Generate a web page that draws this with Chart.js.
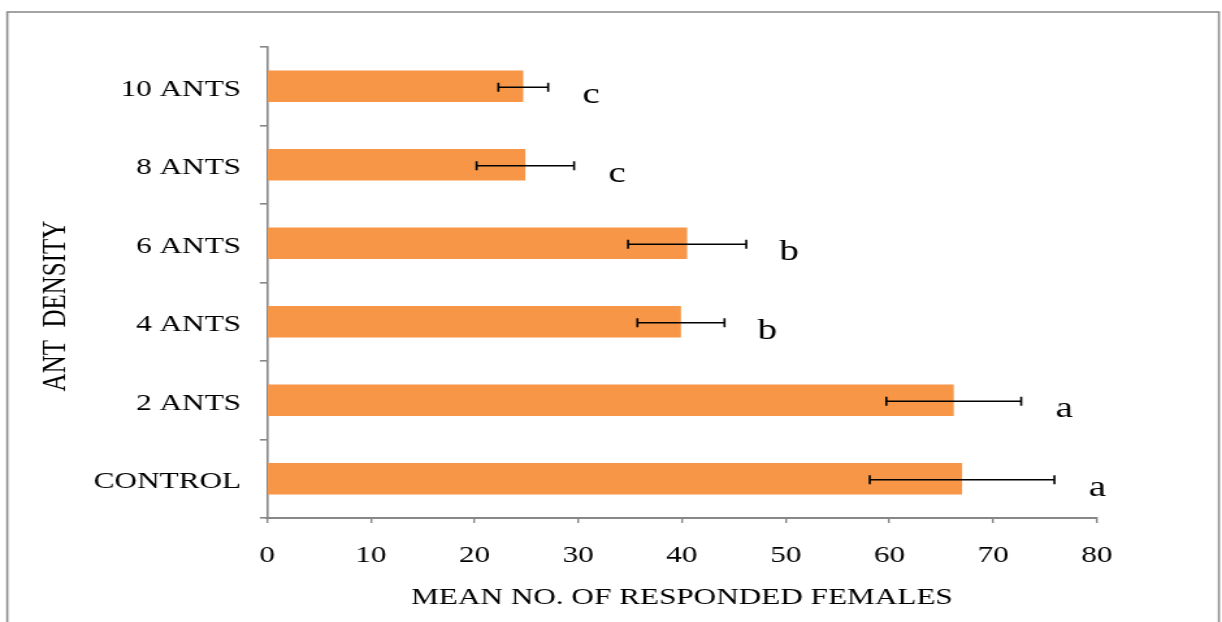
<!DOCTYPE html>
<html>
<head>
<meta charset="utf-8">
<script src="https://cdn.jsdelivr.net/npm/chart.js@4/dist/chart.umd.min.js"></script>
<style>
  html, body { margin: 0; padding: 0; background: #ffffff; overflow: hidden; }
  /* the figure is laid out on a narrower canvas and widened as a whole */
  #wrap { width: 940px; height: 622px; transform: scaleX(1.3); transform-origin: 0 0; }
  canvas { display: block; }
</style>
</head>
<body>
<div id="wrap"><canvas id="chart" width="940" height="622"></canvas></div>
<script>
const categories = ['CONTROL', '2 ANTS', '4 ANTS', '6 ANTS', '8 ANTS', '10 ANTS'];
const meanFemales = [67.0, 66.2, 39.9, 40.5, 24.9, 24.7];
const errorSE = [8.9, 6.5, 4.2, 5.7, 4.7, 2.4];
const groupLetters = ['a', 'a', 'b', 'b', 'c', 'c'];
const xTickValues = [0, 10, 20, 30, 40, 50, 60, 70, 80];

const xTitle = 'MEAN NO. OF RESPONDED FEMALES';
const yTitle = 'ANT  DENSITY';

const SERIF = '"Liberation Serif", "Times New Roman", serif';
const AXIS_GREY = '#878787';

const framePlugin = {
  id: 'frame',
  beforeDraw(chart) {
    const ctx = chart.ctx;
    ctx.save();
    ctx.fillStyle = '#ffffff';
    ctx.fillRect(0, 0, chart.width, chart.height);
    ctx.strokeStyle = '#8c8c8c';
    ctx.lineWidth = 1.6;
    ctx.strokeRect(5.6, 12, 932, chart.height + 20);
    ctx.restore();
  }
};

const errorBarPlugin = {
  id: 'errorBars',
  afterDatasetsDraw(chart) {
    const ctx = chart.ctx;
    const xs = chart.scales.x, ys = chart.scales.y;
    ctx.save();
    ctx.strokeStyle = '#000000';
    ctx.lineWidth = 1.6;
    meanFemales.forEach((m, i) => {
      const y = ys.getPixelForValue(i) + 1;
      const x0 = xs.getPixelForValue(m - errorSE[i]);
      const x1 = xs.getPixelForValue(m + errorSE[i]);
      ctx.beginPath();
      ctx.moveTo(x0, y); ctx.lineTo(x1, y);
      ctx.moveTo(x0, y - 4.5); ctx.lineTo(x0, y + 4.5);
      ctx.moveTo(x1, y - 4.5); ctx.lineTo(x1, y + 4.5);
      ctx.stroke();
      // significance letter to the right of the whisker
      ctx.fillStyle = '#000000';
      ctx.font = '30px ' + SERIF;
      ctx.textAlign = 'center';
      ctx.textBaseline = 'middle';
      ctx.fillText(groupLetters[i], x1 + 33, y + 8);
    });
    ctx.restore();
  }
};

const axisTitlePlugin = {
  id: 'axisTitles',
  afterDraw(chart) {
    const ctx = chart.ctx;
    const area = chart.chartArea;
    ctx.save();
    ctx.fillStyle = '#000000';
    ctx.font = '24px ' + SERIF;
    ctx.textAlign = 'center';
    ctx.textBaseline = 'middle';
    ctx.fillText(xTitle, (area.left + area.right) / 2, 598);
    ctx.translate(43, 306);
    ctx.rotate(-Math.PI / 2);
    ctx.font = '25px ' + SERIF;
    ctx.fillText(yTitle, 0, 0);
    ctx.restore();
  }
};

new Chart(document.getElementById('chart'), {
  type: 'bar',
  data: {
    labels: categories,
    datasets: [{
      data: meanFemales,
      backgroundColor: '#F79646',
      borderWidth: 0,
      barPercentage: 0.4,
      categoryPercentage: 1.0
    }]
  },
  options: {
    indexAxis: 'y',
    responsive: false,
    animation: false,
    devicePixelRatio: 1,
    layout: { padding: { left: 0, right: 96.2, top: 47, bottom: 0 } },
    plugins: { legend: { display: false }, tooltip: { enabled: false } },
    scales: {
      x: {
        min: 0,
        max: 80,
        afterBuildTicks(scale) { scale.ticks = xTickValues.map(v => ({ value: v })); },
        afterFit(scale) { scale.height = 104; },
        border: { display: true, color: AXIS_GREY, width: 2 },
        grid: { drawOnChartArea: false, drawTicks: true, tickLength: 5, color: AXIS_GREY, lineWidth: 1.4 },
        ticks: { color: '#000000', font: { family: SERIF, size: 24 }, padding: 18, maxRotation: 0 }
      },
      y: {
        reverse: true,
        afterFit(scale) { scale.width = 205.4; },
        border: { display: true, color: AXIS_GREY, width: 1.6 },
        grid: { drawOnChartArea: false, drawTicks: true, tickLength: 5.5, color: AXIS_GREY, lineWidth: 1.6, offset: true },
        ticks: { color: '#000000', font: { family: SERIF, size: 24 }, padding: 14.5, labelOffset: 3 }
      }
    }
  },
  plugins: [framePlugin, errorBarPlugin, axisTitlePlugin]
});
</script>
</body>
</html>
